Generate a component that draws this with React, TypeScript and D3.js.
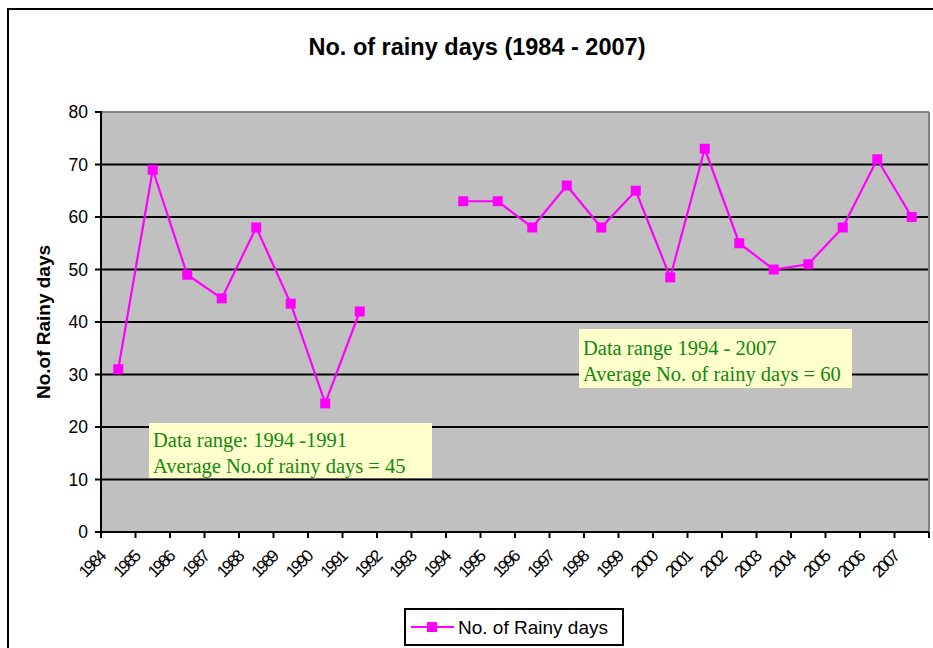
import React from "react";
import * as d3 from "d3";

const years: string[] = [
  "1984","1985","1986","1987","1988","1989","1990","1991","1992","1993","1994","1995",
  "1996","1997","1998","1999","2000","2001","2002","2003","2004","2005","2006","2007",
];
const rainyDays: (number | null)[] = [
  31, 69, 49, 44.5, 58, 43.5, 24.5, 42, null, null, 63, 63,
  58, 66, 58, 65, 48.5, 73, 55, 50, 51, 58, 71, 60,
];
const yTicks: number[] = [0, 10, 20, 30, 40, 50, 60, 70, 80];
const title = "No. of rainy days (1984 - 2007)";
const yTitle = "No.of Rainy days";
const seriesName = "No. of Rainy days";
const note1: string[] = ["Data range: 1994 -1991", "Average No.of rainy days = 45"];
const note2: string[] = ["Data range 1994 - 2007", "Average No. of rainy days = 60"];

const W = 933;
const H = 648;
const L = 101, R = 929, T = 112, B = 532;

export default function App() {
  const x = d3.scaleBand<string>().domain(years).range([L, R]).padding(0);
  const y = d3.scaleLinear().domain([0, 80]).range([B, T]);
  const cx = (yr: string) => (x(yr) as number) + x.bandwidth() / 2;

  const pts = years.map((yr, i) => ({ yr, v: rainyDays[i] }));
  const line = d3
    .line<{ yr: string; v: number | null }>()
    .defined((d) => d.v !== null)
    .x((d) => cx(d.yr))
    .y((d) => y(d.v as number));

  const magenta = "#FF00FF";
  const green = "#118811";
  const sans = "Arial, 'Liberation Sans', sans-serif";
  const serif = "'Times New Roman', 'Liberation Serif', serif";

  const tickXs = years.map((yr) => x(yr) as number).concat([R]);

  return (
    <svg
      width={W}
      height={H}
      style={{ position: "absolute", left: 0, top: 0, background: "#fff" }}
    >
      <rect x={0} y={0} width={W} height={H} fill="#fff" />
      {/* chart border */}
      <rect x={8} y={9} width={W + 10} height={H + 10} fill="none" stroke="#000" strokeWidth={2} />

      {/* title */}
      <text x={477} y={55} textAnchor="middle" fontFamily={sans} fontWeight="bold" fontSize={23.5}>
        {title}
      </text>

      {/* plot area */}
      <rect x={L} y={T} width={R - L} height={B - T} fill="#C0C0C0" />
      {yTicks.filter((t) => t > 0 && t < 80).map((t) => (
        <line key={"g" + t} x1={L} x2={R} y1={y(t)} y2={y(t)} stroke="#000" strokeWidth={2} />
      ))}
      <line x1={L} x2={R} y1={T} y2={T} stroke="#808080" strokeWidth={2} />
      <line x1={R} x2={R} y1={T} y2={B} stroke="#808080" strokeWidth={2} />

      {/* axes */}
      <line x1={L} x2={L} y1={T - 1} y2={B} stroke="#000" strokeWidth={2} />
      <line x1={L} x2={R} y1={B} y2={B} stroke="#000" strokeWidth={2} />
      {yTicks.map((t) => (
        <g key={"yt" + t}>
          <line x1={L - 6} x2={L} y1={y(t)} y2={y(t)} stroke="#000" strokeWidth={2} />
          <text x={L - 13} y={y(t) + 6} textAnchor="end" fontFamily={sans} fontSize={17.5}>
            {t}
          </text>
        </g>
      ))}
      {tickXs.map((tx, i) => (
        <line key={"xt" + i} x1={tx} x2={tx} y1={B} y2={B + 6} stroke="#000" strokeWidth={2} />
      ))}
      {years.map((yr) => (
        <text
          key={"xl" + yr}
          transform={`translate(${cx(yr) - 12},${B + 26}) rotate(-45)`}
          textAnchor="end"
          fontFamily={sans}
          fontSize={17}
          letterSpacing={-2.2}
        >
          {yr}
        </text>
      ))}

      {/* y axis title */}
      <text
        transform={`translate(50,${(T + B) / 2}) rotate(-90)`}
        textAnchor="middle"
        fontFamily={sans}
        fontWeight="bold"
        fontSize={19}
      >
        {yTitle}
      </text>

      {/* series */}
      <path d={line(pts) || ""} fill="none" stroke={magenta} strokeWidth={2.2} />
      {pts
        .filter((d) => d.v !== null)
        .map((d) => (
          <rect
            key={"m" + d.yr}
            x={cx(d.yr) - 5}
            y={y(d.v as number) - 5}
            width={10}
            height={10}
            fill={magenta}
          />
        ))}

      {/* annotations */}
      <rect x={149} y={423} width={283} height={55} fill="#FFFFCC" />
      {note1.map((s, i) => (
        <text key={"n1" + i} x={153} y={447 + i * 26} fontFamily={serif} fontSize={20.5} fill={green}>
          {s}
        </text>
      ))}
      <rect x={579} y={329} width={273} height={59} fill="#FFFFCC" />
      {note2.map((s, i) => (
        <text key={"n2" + i} x={583} y={355 + i * 26} fontFamily={serif} fontSize={20.5} fill={green}>
          {s}
        </text>
      ))}

      {/* legend */}
      <rect x={405} y={609} width={218} height={36} fill="#fff" stroke="#000" strokeWidth={2} />
      <line x1={411} x2={454} y1={627} y2={627} stroke={magenta} strokeWidth={2.2} />
      <rect x={427} y={622} width={10} height={10} fill={magenta} />
      <text x={458} y={634} fontFamily={sans} fontSize={19}>
        {seriesName}
      </text>
    </svg>
  );
}
